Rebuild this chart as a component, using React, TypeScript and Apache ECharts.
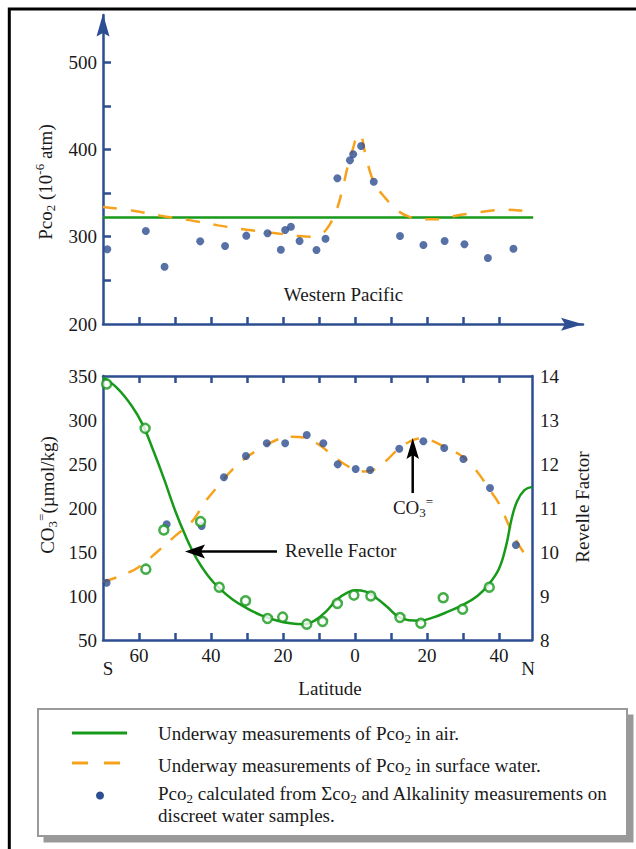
import React, { useEffect, useRef } from 'react';
import * as echarts from 'echarts';

// ---------- data (latitude: negative = S, positive = N) ----------
const latTicks = [-60, -50, -40, -30, -20, -10, 0, 10, 20, 30, 40];
const latLabels = [-60, -40, -20, 0, 20, 40];
const pco2Ticks = [250, 300, 350, 400, 450, 500];
const pco2Labels = [200, 300, 400, 500];

const airLat = [-70, 49.5];
const airPco2 = [322, 322];

const waterLat = [-70, -62, -54, -46, -38, -30, -22, -16, -12, -9, -7, -5, -3.5, -2, -0.5, 0.3, 1.0, 1.8, 2.8, 4.6, 6, 8.5, 11.5, 15, 20, 24, 28, 33, 38, 42, 46, 49.5];
const waterPco2 = [334, 330, 324, 319, 313, 308, 304, 301, 300, 304, 314, 332, 354, 381, 402, 413, 418, 415, 396, 369, 357, 344, 331, 323, 320, 320, 324, 327, 330, 331, 330, 328];

const sampleLat = [-68.8, -58.1, -52.9, -43.0, -36.1, -30.2, -24.3, -20.6, -19.4, -17.8, -15.4, -10.7, -8.2, -4.9, -1.4, -0.5, 1.7, 5.2, 12.5, 19, 24.9, 30.4, 36.9, 44];
const samplePco2 = [285.6, 306.5, 265.6, 294.7, 289.3, 301.2, 303.9, 285.1, 307.7, 311.5, 295.1, 284.8, 297.7, 366.9, 387.5, 394.4, 403.9, 363, 300.8, 290.5, 295.1, 291.3, 275.6, 286.3];

const co3FitLat = [-70, -65, -60, -55, -50, -45, -42, -38, -34, -30, -26, -22, -18, -14, -10, -6, -3, 0, 3, 6, 9, 12, 15, 18, 21, 25, 30, 34, 37, 40, 43, 45.5, 48];
const co3Fit = [116, 123, 133, 150, 168, 186, 205, 225, 244, 258, 268, 277, 281, 280, 272, 259, 250, 244, 241.5, 245, 255, 267, 275, 279, 277, 269, 258, 241, 223, 205, 178, 158, 143];

const co3SampleLat = [-69, -52.3, -42.6, -36.4, -30.3, -24.5, -19.4, -13.4, -8.8, -4.8, 0.2, 4.2, 12.3, 19, 24.8, 30.1, 37.5, 44.7];
const co3Sample = [115, 181.5, 179.5, 235, 259, 273.5, 273.5, 283, 273.5, 249.6, 244.3, 243.2, 267.4, 275.8, 268.2, 255.7, 222.7, 158];

const rfFitLat = [-70, -66, -62, -59, -56, -53, -50, -47, -44, -41, -38, -34, -30, -26, -22, -18, -14, -11, -8, -5, -2, 0, 3, 6, 9, 12, 15, 18, 22, 26, 30, 34, 37, 40, 42, 43.5, 45, 47, 49.2];
const rfFit = [13.97, 13.72, 13.32, 12.9, 12.3, 11.65, 10.95, 10.35, 9.85, 9.48, 9.2, 8.92, 8.72, 8.56, 8.45, 8.38, 8.36, 8.45, 8.65, 8.92, 9.08, 9.13, 9.1, 8.95, 8.75, 8.53, 8.45, 8.44, 8.52, 8.65, 8.8, 9.0, 9.25, 9.62, 10.15, 10.75, 11.15, 11.4, 11.48];

const rfSampleLat = [-69, -58.3, -53.1, -58.1, -42.9, -37.7, -30.4, -24.3, -20.1, -13.4, -9, -4.9, -0.3, 4.4, 12.5, 18.3, 24.5, 29.9, 37.3];
const rfSample = [13.82, 12.81, 10.5, 9.61, 10.69, 9.2, 8.89, 8.49, 8.52, 8.36, 8.42, 8.83, 9.02, 9.0, 8.51, 8.38, 8.96, 8.7, 9.2];

// ---------- styling ----------
const BLUE = '#2d4e91';
const GREEN = '#17991a';
const ORANGE = '#f7a21c';
const TXT = '#1a1a1a';
const SERIF = "'Liberation Serif', 'Times New Roman', serif";
const FS = 19;

const pairs = (xs: number[], ys: number[]) => xs.map((x, i) => [x, ys[i]]);

const richBase = {
  a: { fontSize: FS, fontFamily: SERIF, fill: TXT, lineHeight: 24 },
  sub: { fontSize: 13, fontFamily: SERIF, fill: TXT, verticalAlign: 'bottom', lineHeight: 24 },
  sup: { fontSize: 13, fontFamily: SERIF, fill: TXT, verticalAlign: 'top', lineHeight: 24 },
};

function txt(text: string, x: number, y: number, extra: any = {}) {
  return {
    type: 'text',
    x,
    y,
    rotation: extra.rotation || 0,
    style: {
      text,
      rich: richBase,
      fontSize: FS,
      fontFamily: SERIF,
      fill: TXT,
      lineHeight: 24,
      align: extra.align || 'center',
      verticalAlign: 'middle',
    },
    z: 100,
  };
}

export default function App() {
  const ref = useRef<HTMLDivElement>(null);
  useEffect(() => {
    if (!ref.current) return;
    const chart = echarts.init(ref.current, null, { renderer: 'svg' });
    const axisLine = { show: true, onZero: false, lineStyle: { color: BLUE, width: 2.5 } };
    const numRich = { n: { fontFamily: SERIF, fontSize: FS, color: TXT } };
    const labelStyle = { color: TXT, fontSize: FS, fontFamily: SERIF, rich: numRich };
    const option: any = {
      animation: false,
      backgroundColor: '#fff',
      textStyle: { fontFamily: SERIF, fontSize: FS, color: TXT },
      grid: [
        { left: 103, top: 15, width: 480, height: 309 },
        { left: 103, top: 376, width: 429, height: 264 },
      ],
      xAxis: [
        {
          type: 'value', gridIndex: 0, min: -70, max: 63.33,
          axisLine,
          axisTick: { show: true, inside: true, length: 7, customValues: latTicks, lineStyle: { color: BLUE, width: 2.5 } },
          axisLabel: { show: false },
          splitLine: { show: false },
        },
        {
          type: 'value', gridIndex: 1, position: 'bottom', min: -70, max: 49.17,
          axisLine,
          axisTick: { show: true, inside: true, length: 7, customValues: latTicks, lineStyle: { color: BLUE, width: 2.5 } },
          axisLabel: { ...labelStyle, margin: 6, customValues: latLabels, formatter: (v: number) => `{n|${Math.abs(v)}}` },
          splitLine: { show: false },
        },
        {
          type: 'value', gridIndex: 1, position: 'top', min: -70, max: 49.17,
          axisLine,
          axisTick: { show: true, inside: true, length: 7, customValues: latTicks, lineStyle: { color: BLUE, width: 2.5 } },
          axisLabel: { show: false },
          splitLine: { show: false },
        },
      ],
      yAxis: [
        {
          type: 'value', gridIndex: 0, min: 200, max: 554,
          axisLine,
          axisTick: { show: true, inside: true, length: 8, customValues: pco2Ticks, lineStyle: { color: BLUE, width: 2.5 } },
          axisLabel: { ...labelStyle, margin: 6, customValues: pco2Labels, formatter: (v: number) => `{n|${v}}` },
          splitLine: { show: false },
        },
        {
          type: 'value', gridIndex: 1, position: 'left', min: 50, max: 350, interval: 50,
          axisLine,
          axisTick: { show: false },
          axisLabel: { ...labelStyle, margin: 6, formatter: (v: number) => `{n|${v}}` },
          splitLine: { show: false },
        },
        {
          type: 'value', gridIndex: 1, position: 'right', min: 8, max: 14, interval: 1,
          axisLine,
          axisTick: { show: false },
          axisLabel: { ...labelStyle, margin: 8, formatter: (v: number) => `{n|${v}}` },
          splitLine: { show: false },
        },
      ],
      series: [
        {
          type: 'line', xAxisIndex: 0, yAxisIndex: 0, data: pairs(airLat, airPco2),
          showSymbol: false, lineStyle: { color: GREEN, width: 2.5 }, z: 2,
        },
        {
          type: 'line', xAxisIndex: 0, yAxisIndex: 0, data: pairs(waterLat, waterPco2),
          smooth: 0.4, showSymbol: false, lineStyle: { color: ORANGE, width: 2.5, type: [14, 14] }, z: 3,
        },
        {
          type: 'scatter', xAxisIndex: 0, yAxisIndex: 0, data: pairs(sampleLat, samplePco2),
          symbolSize: 8, itemStyle: { color: BLUE }, z: 4,
        },
        {
          type: 'line', xAxisIndex: 1, yAxisIndex: 1, data: pairs(co3FitLat, co3Fit),
          smooth: 0.4, showSymbol: false, lineStyle: { color: ORANGE, width: 2.5, type: [14, 13] }, z: 3,
        },
        {
          type: 'scatter', xAxisIndex: 1, yAxisIndex: 1, data: pairs(co3SampleLat, co3Sample),
          symbolSize: 8, itemStyle: { color: BLUE }, z: 4,
        },
        {
          type: 'line', xAxisIndex: 1, yAxisIndex: 2, data: pairs(rfFitLat, rfFit),
          smooth: 0.4, showSymbol: false, lineStyle: { color: GREEN, width: 2.5 }, z: 3,
        },
        {
          type: 'scatter', xAxisIndex: 1, yAxisIndex: 2, data: pairs(rfSampleLat, rfSample),
          symbol: 'circle', symbolSize: 9,
          itemStyle: { color: '#ffffff', borderColor: GREEN, borderWidth: 2.5 }, z: 5,
        },
      ],
      graphic: [
        // outer frame
        { type: 'rect', shape: { x: 9.3, y: 9, width: 720, height: 900 }, style: { fill: 'none', stroke: '#000', lineWidth: 3 }, z: 100 },
        // axis arrowheads (top chart)
        { type: 'polygon', shape: { points: [[103, 14], [96.5, 36.5], [103, 33], [109.5, 36.5]] }, style: { fill: BLUE }, z: 100 },
        { type: 'polygon', shape: { points: [[583, 324.3], [561, 317.8], [565, 324.3], [561, 330.8]] }, style: { fill: BLUE }, z: 100 },
        // titles
        txt('{a|Pco}{sub|2}{a| (10}{sup|-6}{a| atm)}', 45, 182, { rotation: Math.PI / 2 }),
        txt('Western Pacific', 343.5, 294),
        txt('{a|CO}{sub|3}{sup|=}{a|(µmol/kg)}', 47, 495, { rotation: Math.PI / 2 }),
        txt('Revelle Factor', 582, 507, { rotation: Math.PI / 2 }),
        txt('Latitude', 330, 688),
        txt('S', 108, 668),
        txt('N', 528, 668),
        // annotations
        txt('Revelle Factor', 285, 550, { align: 'left' }),
        { type: 'line', shape: { x1: 277, y1: 551.5, x2: 200, y2: 551.5 }, style: { stroke: '#000', lineWidth: 2.5 }, z: 100 },
        { type: 'polygon', shape: { points: [[185, 551.5], [205, 544.5], [201, 551.5], [205, 558.5]] }, style: { fill: '#000' }, z: 100 },
        txt('{a|CO}{sub|3}{sup|=}', 413, 507),
        { type: 'line', shape: { x1: 412.7, y1: 493, x2: 412.7, y2: 455 }, style: { stroke: '#000', lineWidth: 2.5 }, z: 100 },
        { type: 'polygon', shape: { points: [[412.7, 438], [406.5, 459], [412.7, 455], [419, 459]] }, style: { fill: '#000' }, z: 100 },
        // legend box
        { type: 'rect', shape: { x: 43.5, y: 714.5, width: 590, height: 128 }, style: { fill: '#999999' }, z: 90 },
        { type: 'rect', shape: { x: 38, y: 709, width: 589, height: 127 }, style: { fill: '#ffffff', stroke: '#9a9a9a', lineWidth: 2 }, z: 91 },
        { type: 'line', shape: { x1: 72, y1: 733, x2: 127, y2: 733 }, style: { stroke: GREEN, lineWidth: 3 }, z: 100 },
        { type: 'line', shape: { x1: 72, y1: 763, x2: 88, y2: 763 }, style: { stroke: ORANGE, lineWidth: 3 }, z: 100 },
        { type: 'line', shape: { x1: 104, y1: 763, x2: 120, y2: 763 }, style: { stroke: ORANGE, lineWidth: 3 }, z: 100 },
        { type: 'circle', shape: { cx: 100, cy: 795.5, r: 4 }, style: { fill: BLUE }, z: 100 },
        txt('{a|Underway measurements of Pco}{sub|2}{a| in air.}', 158, 733, { align: 'left' }),
        txt('{a|Underway measurements of Pco}{sub|2}{a| in surface water.}', 158, 765, { align: 'left' }),
        txt('{a|Pco}{sub|2}{a| calculated from Σco}{sub|2}{a| and Alkalinity measurements on}', 158, 793, { align: 'left' }),
        txt('discreet water samples.', 158, 815, { align: 'left' }),
      ],
    };
    chart.setOption(option);
    return () => chart.dispose();
  }, []);
  return <div ref={ref} style={{ position: 'absolute', left: 0, top: 0, width: 636, height: 849 }} />;
}
